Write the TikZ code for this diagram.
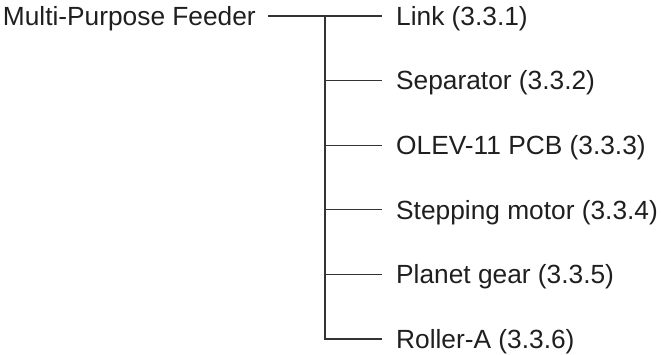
\documentclass[tikz,border=0pt]{standalone}
\usepackage{fontspec}
\setmainfont{Liberation Sans}
\begin{document}
\begin{tikzpicture}[x=1pt,y=-1pt,
  lbl/.style={inner ysep=0pt, text height=18.8pt, text depth=0pt, font=\fontsize{26.3}{31}\selectfont, text=black!88},
  rootlbl/.style={lbl, anchor=east, inner xsep=12pt},
  childlbl/.style={lbl, anchor=west, inner xsep=14pt},
  conn/.style={draw=black!80, line width=1.1pt}]
\useasboundingbox (0,0) rectangle (661,355);
\node[rootlbl] (root) at (268,16) {Multi-Purpose Feeder};
\node[childlbl] (c1) at (382,16) {Link (3.3.1)};
\node[childlbl] (c2) at (382,80.6) {Separator (3.3.2)};
\node[childlbl] (c3) at (382,145.2) {OLEV-11 PCB (3.3.3)};
\node[childlbl] (c4) at (382,209.8) {Stepping motor (3.3.4)};
\node[childlbl] (c5) at (382,274.4) {Planet gear (3.3.5)};
\node[childlbl] (c6) at (382,339) {Roller-A (3.3.6)};
\coordinate (j) at (325,16);
\draw[conn] (root.east) -- (c1.west);
\draw[conn] (j) |- (c6.west);
\draw[conn] (j |- c2.west) -- (c2.west);
\draw[conn] (j |- c3.west) -- (c3.west);
\draw[conn] (j |- c4.west) -- (c4.west);
\draw[conn] (j |- c5.west) -- (c5.west);
\end{tikzpicture}
\end{document}
